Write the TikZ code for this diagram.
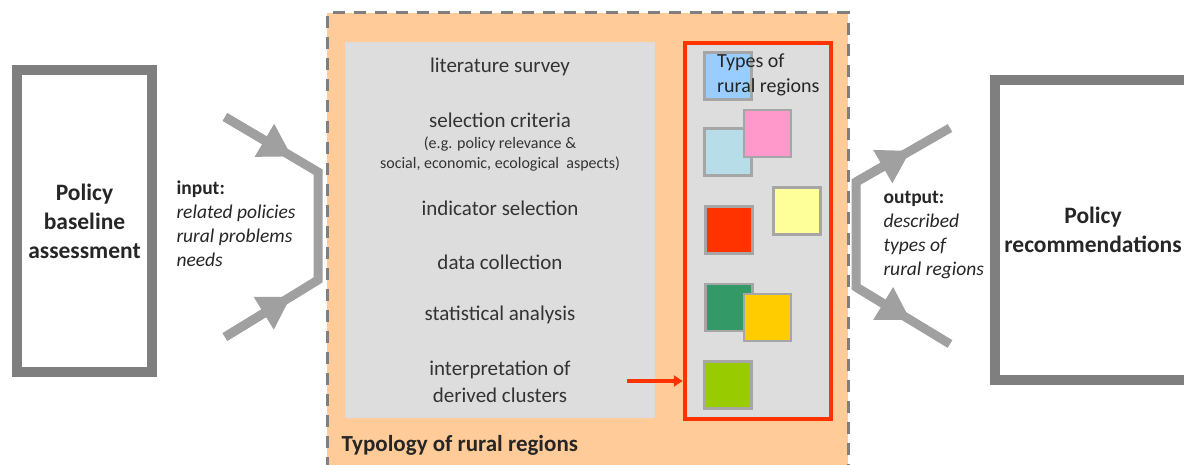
\documentclass[tikz,border=0pt]{standalone}
\usepackage{fontspec}
\setmainfont{Carlito}
\usepackage{tikz}
\usetikzlibrary{arrows.meta,calc}
\definecolor{frame}{HTML}{7F7F7F}
\definecolor{flowgrey}{HTML}{A0A0A0}
\definecolor{peach}{HTML}{FFCC99}
\definecolor{panel}{HTML}{DDDDDD}
\definecolor{alert}{HTML}{FF3300}
\definecolor{tileedge}{HTML}{A6A6A6}
\definecolor{ink}{HTML}{262626}
\definecolor{stepink}{HTML}{333333}
\definecolor{tblue}{HTML}{99CCFF}
\definecolor{tcyan}{HTML}{B7DEE8}
\definecolor{tpink}{HTML}{FF99CC}
\definecolor{tpale}{HTML}{FFFF99}
\definecolor{tred}{HTML}{FF3300}
\definecolor{tgreen}{HTML}{339966}
\definecolor{tgold}{HTML}{FFCC00}
\definecolor{tlime}{HTML}{99CC00}
\tikzset{
  sidebox/.style={draw=frame, line width=10pt, fill=white, align=center, text=ink,
    font=\fontsize{23.5}{29}\selectfont\bfseries},
  typology/.style={draw=frame, line width=3pt, dash pattern=on 12pt off 9pt, fill=peach},
  panelbox/.style={fill=panel, inner sep=0pt},
  typesbox/.style={draw=alert, line width=4.5pt, fill=panel, inner sep=0pt},
  stepitem/.style={align=center, text=stepink, font=\fontsize{21}{27}\selectfont},
  stepnote/.style={align=center, text=stepink, font=\fontsize{16}{20}\selectfont},
  sidelbl/.style={align=left, anchor=west, text=ink, font=\fontsize{19.5}{24}\selectfont},
  tile/.style={draw=tileedge, line width=2.5pt, minimum size=47pt, inner sep=0pt},
  flow/.style={draw=flowgrey, line width=9pt, line join=miter},
  flowhead/.style={-{Triangle[length=32pt,width=36pt]}, draw=flowgrey, fill=flowgrey, line width=9pt},
  pointer/.style={-{Triangle[length=9pt,width=11pt]}, draw=alert, line width=3.5pt},
}
\newcommand{\regiontile}[3]{\node[tile, fill=#3] (#1) at #2 {};}

\begin{document}
\begin{tikzpicture}[x=1pt,y=-1pt]
  \clip (0,0) rectangle (1184,465);
  \fill[white] (0,0) rectangle (1184,465);

  % typology frame with the steps and the region types
  \node[typology, minimum width=521pt, minimum height=467pt] (typo) at (587.5,246.5) {};
  \node[anchor=west, text=ink, font=\fontsize{23}{27}\selectfont\bfseries] (typolbl) at (338,445) {Typology of rural regions};
  \node[panelbox, minimum width=310pt, minimum height=376pt] (steps) at (500,230) {};
  \node[typesbox, minimum width=146pt, minimum height=376pt] (types) at (758,231) {};

  \foreach \y/\name/\txt in {67/lit/literature survey, 120/crit/selection criteria,
      208/ind/indicator selection, 262/data/data collection,
      315/stat/statistical analysis, 381.5/interp/{interpretation of\\derived clusters}}
    \node[stepitem] (\name) at (500,\y) {\txt};
  \node[stepnote] (critnote) at (500,154) {(e.g. policy relevance \&\\social, economic, ecological\ \ aspects)};

  \regiontile{blue}{(728,76)}{tblue}
  \regiontile{cyan}{(728,152)}{tcyan}
  \regiontile{pink}{(767.5,133.5)}{tpink}
  \regiontile{pale}{(797,211)}{tpale}
  \regiontile{red}{(729,230)}{tred}
  \regiontile{green}{(729,307.5)}{tgreen}
  \regiontile{gold}{(767.5,317.5)}{tgold}
  \regiontile{lime}{(728,385)}{tlime}
  \node[anchor=west, align=left, text=ink, font=\fontsize{20}{25}\selectfont, inner sep=0pt] (typeslbl) at (717,75) {Types of\\rural regions};

  \coordinate (redfrom) at (627,381);
  \draw[pointer] (redfrom) -- (redfrom -| types.west);

  % input and output brackets
  \coordinate (in1) at (225,117);
  \coordinate (in2) at (318,172);
  \coordinate (in3) at (318,280);
  \coordinate (in4) at (225,337);
  \draw[flow] (in1) -- (in2) -- (in3) -- (in4);
  \draw[flowhead] (in1) -- ($(in1)!0.72!(in2)$);
  \draw[flowhead] (in4) -- ($(in4)!0.71!(in3)$);

  \coordinate (out1) at (950,128);
  \coordinate (out2) at (856,182);
  \coordinate (out3) at (856,287);
  \coordinate (out4) at (950,344);
  \draw[flow] (out1) -- (out2) -- (out3) -- (out4);
  \draw[flowhead] (out2) -- ($(out2)!0.58!(out1)$);
  \draw[flowhead] (out3) -- ($(out3)!0.58!(out4)$);

  \node[sidelbl] (inlbl) at (173,224) {\textbf{input:}\\\textit{related policies}\\\textit{rural problems}\\\textit{needs}};
  \node[sidelbl] (outlbl) at (880,235) {\textbf{output:}\\\textit{described}\\\textit{types of}\\\textit{rural regions}};

  % policy boxes
  \node[sidebox, minimum width=135pt, minimum height=302pt] (baseline) at (84.5,221) {Policy\\baseline\\assessment};
  \node[sidebox, minimum width=196pt, minimum height=300pt] (recomm) at (1093,230) {Policy\\recommendations};
\end{tikzpicture}
\end{document}
